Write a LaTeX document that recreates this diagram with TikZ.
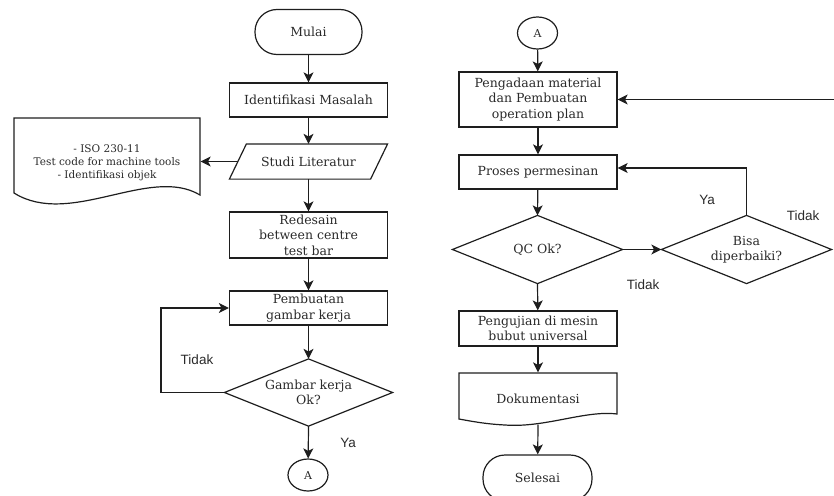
\documentclass[tikz,border=0pt]{standalone}
\usepackage{fontspec}
\setmainfont{DejaVu Serif}
\newfontfamily\lblfont{Liberation Sans}
\usetikzlibrary{arrows.meta,shapes.geometric}
\definecolor{ink}{HTML}{1E1E1E}
\definecolor{txt}{HTML}{2A2A2A}
\begin{document}
\begin{tikzpicture}[x=1pt,y=-1pt,
  line width=1.2pt, draw=ink,
  >={Stealth[length=10pt,width=10pt,inset=2.5pt]},
  flow/.style={draw=ink,->},
  shp/.style={draw=ink,line width=1.2pt},
  boxtext/.style={font=\fontsize{12.5}{15.5}\selectfont, text=txt, align=center, inner sep=0pt},
  procbox/.style={boxtext, draw=ink, minimum width=158pt, minimum height=34pt},
  plainbox/.style={boxtext},
  termbox/.style={boxtext, draw=ink, rounded corners=22pt, minimum height=45pt},
  conn/.style={boxtext, draw=ink, ellipse, minimum width=40pt, minimum height=32pt, font=\fontsize{11}{12}\selectfont},
  dia/.style={boxtext, minimum width=167pt, minimum height=66pt},
  lbl/.style={font=\lblfont\fontsize{13.5}{15}\selectfont, text=txt, inner sep=0pt}
]
\useasboundingbox (0,0) rectangle (834,495);
\clip (0,0) rectangle (834,495);

% ---- left column ----
\node[termbox, minimum width=107pt] (mulai) at (308.5,32) {Mulai};
\node[procbox] (ident) at (308.5,100) {Identifikasi Masalah};
\node[plainbox, minimum width=140pt, minimum height=34pt] (studi) at (308.5,161.5) {Studi Literatur};
\draw[shp] ([xshift=8.5pt]studi.north west) -- ([xshift=8.5pt]studi.north east)
  -- ([xshift=-8.5pt]studi.south east) -- ([xshift=-8.5pt]studi.south west) -- cycle;
\node[plainbox, minimum width=186pt, minimum height=60pt, font=\fontsize{10.5}{13}\selectfont] (ref) at (107,163)
  {- ISO 230-11\\Test code for machine tools\\- Identifikasi objek};
\draw[shp] (14,118) -- (200,118) -- (200,195)
  .. controls (150,165) and (70,228) .. (14,193) -- cycle;
\node[procbox, minimum height=46pt] (redes) at (308.5,235) {Redesain\\between centre\\test bar};
\node[procbox] (pemb) at (308.5,308) {Pembuatan\\gambar kerja};
\node[dia] (gk) at (308.5,392.5) {Gambar kerja\\Ok?};
\draw[shp] (gk.north) -- (gk.east) -- (gk.south) -- (gk.west) -- cycle;
\node[conn] (a1) at (308,475) {A};

\draw[flow] (mulai) -- (ident);
\draw[flow] (ident) -- (studi);
\draw[flow] (studi.west) -- (studi.west -| ref.east);
\draw[flow] (studi) -- (redes);
\draw[flow] (redes) -- (pemb);
\draw[flow] (pemb) -- (gk.north);
\draw[flow] (gk.west) -- ++(-63.5,0) |- (pemb.west);
\draw[flow] (gk.south) -- (a1);
\node[lbl] (t1) at (197,360) {Tidak};
\node[lbl] (y1) at (348,443) {Ya};

% ---- right column ----
\node[conn] (a2) at (537.5,33) {A};
\node[procbox, minimum height=55pt] (peng) at (538,99.5) {Pengadaan material\\dan Pembuatan\\operation plan};
\node[procbox] (pros) at (538,172) {Proses permesinan};
\node[dia, minimum width=169pt, minimum height=67pt] (qc) at (537.5,249.5) {QC Ok?};
\draw[shp] (qc.north) -- (qc.east) -- (qc.south) -- (qc.west) -- cycle;
\node[dia, minimum width=169pt, minimum height=67pt] (bisa) at (746.5,249.5) {Bisa\\diperbaiki?};
\draw[shp] (bisa.north) -- (bisa.east) -- (bisa.south) -- (bisa.west) -- cycle;
\node[procbox, minimum height=35pt] (uji) at (538,328.5) {Pengujian di mesin\\bubut universal};
\node[plainbox, minimum width=158pt, minimum height=51pt] (dok) at (538,398.5) {Dokumentasi};
\draw[shp] (459,373) -- (617,373) -- (617,414)
  .. controls (585,410) and (545,428) .. (505,425)
  .. controls (485,424) and (470,421) .. (459,419) -- cycle;
\node[termbox, minimum width=109pt, minimum height=46pt] (sel) at (537.5,478) {Selesai};
\coordinate (edge) at (845,99.5);

\draw[flow] (a2) -- (peng);
\draw[flow] (peng) -- (pros);
\draw[flow] (pros) -- (qc.north);
\draw[flow] (qc.east) -- (bisa.west);
\draw[flow] (bisa.north) |- ([yshift=4pt]pros.east);
\draw[flow] (edge) -- (peng.east);
\draw[flow] (qc.south) -- (uji);
\draw[flow] (uji) -- (dok.north);
\draw[flow] (dok.south) -- (sel);
\node[lbl] (y2) at (707,200) {Ya};
\node[lbl] (t2) at (803,216) {Tidak};
\node[lbl] (t3) at (643,285) {Tidak};
\end{tikzpicture}
\end{document}
